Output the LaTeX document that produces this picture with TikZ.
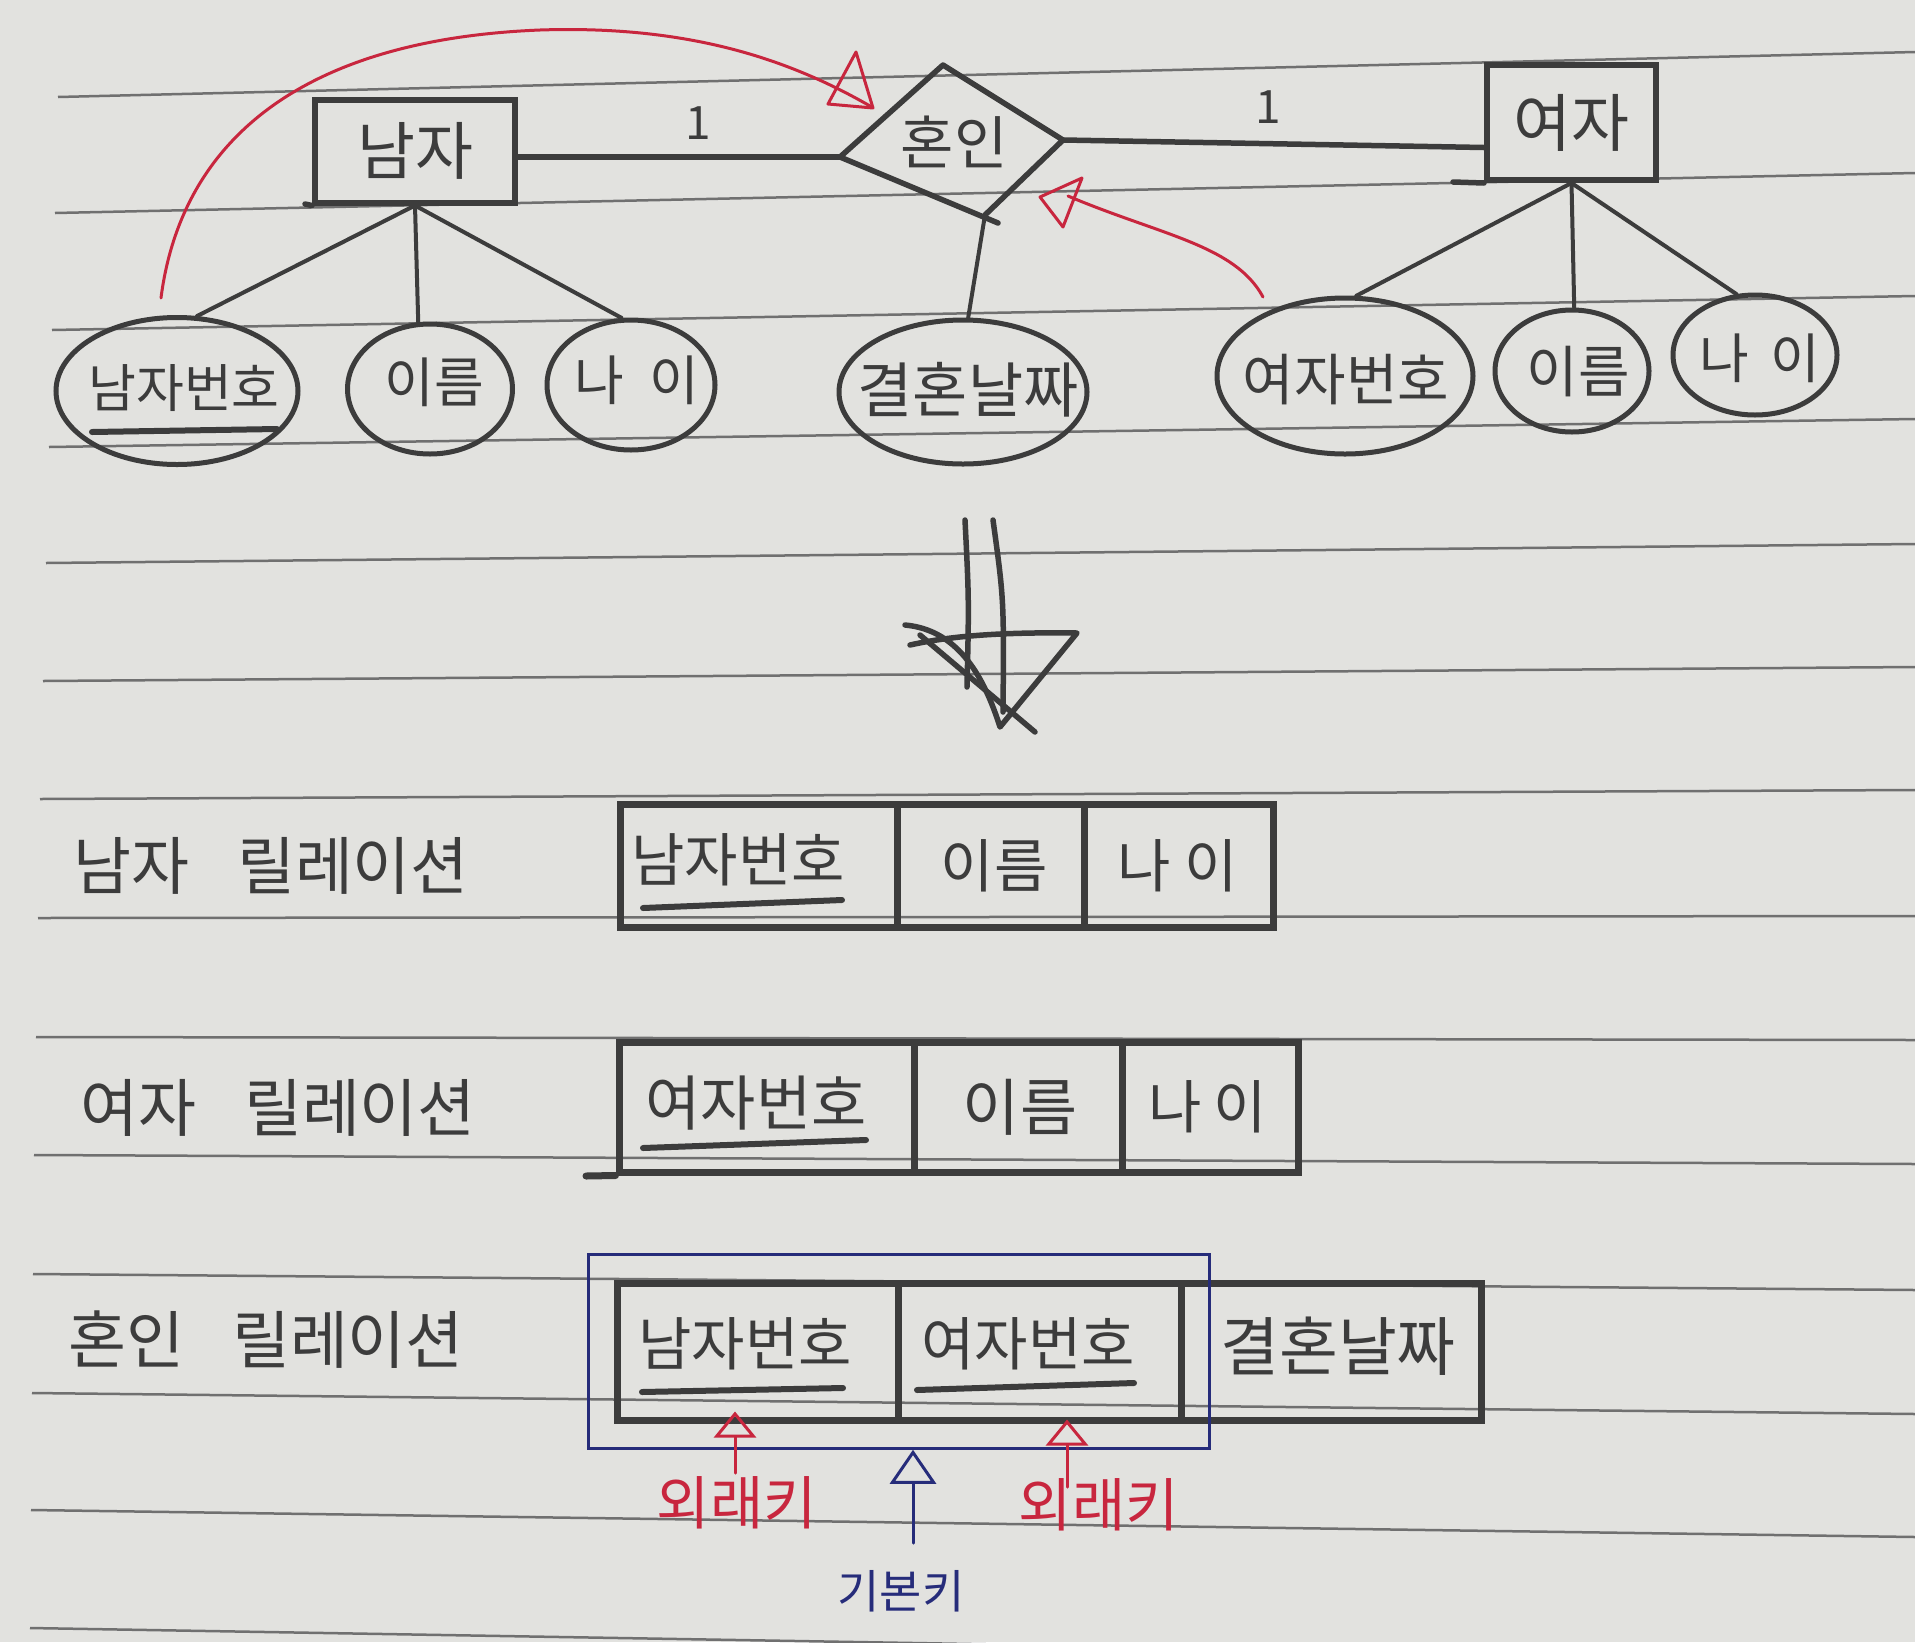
\documentclass[tikz,border=0pt]{standalone}
\usepackage{fontspec}
\newfontfamily\kr{Noto Sans CJK KR}
\usetikzlibrary{shapes.geometric,arrows.meta,fit}
\definecolor{paper}{RGB}{226,226,223}
\definecolor{rulegray}{RGB}{112,112,112}
\definecolor{pencil}{RGB}{60,60,60}
\definecolor{redpen}{RGB}{200,38,62}
\definecolor{bluepen}{RGB}{38,44,122}
\newcommand\kfs[1]{\fontsize{#1}{#1}\selectfont}
\tikzset{
 ruled/.style={draw=rulegray, line width=2.5pt},
 entity/.style={rectangle, draw=pencil, line width=6pt, inner sep=0pt, text=pencil, font={\kr\kfs{63}}},
 attr/.style={ellipse, draw=pencil, line width=5pt, inner sep=0pt},
 atext/.style={inner sep=0pt, text=pencil, font={\kr\kfs{52}}},
 link/.style={draw=pencil, line width=5.5pt, line cap=round, line join=round},
 attrline/.style={draw=pencil, line width=4pt, line cap=round},
 card/.style={inner sep=0pt, text=pencil, font={\kr\kfs{46}}},
 cell/.style={rectangle, draw=pencil, line width=7pt, inner sep=0pt, text=pencil, font={\kr\kfs{58}}},
 keyline/.style={draw=pencil, line width=6pt, line cap=round},
 relname/.style={anchor=west, inner sep=0pt, text=pencil, font={\kr\kfs{63}}},
 redink/.style={draw=redpen, line width=3pt, line cap=round, line join=round},
 redarrow/.style={redink, -{Triangle[open, length=26pt, width=42pt]}},
 bluearrow/.style={draw=bluepen, line width=3pt, line cap=round, -{Triangle[open, length=34pt, width=46pt]}},
 redtext/.style={inner sep=2pt, text=redpen, font={\kr\kfs{58}}},
 bluetext/.style={inner sep=2pt, text=bluepen, font={\kr\kfs{46}}},
 keybox/.style={draw=bluepen, line width=2.5pt, inner sep=25pt},
}
\begin{document}
\begin{tikzpicture}[x=1pt,y=-1pt]
\useasboundingbox (0,0) rectangle (1915,1642);
\fill[paper] (0,0) rectangle (1915,1642);
% ruled paper
\begin{scope}
\clip (0,0) rectangle (1915,1642);
\foreach \xa/\ya/\yb in {58/97/52, 55/213/173, 52/330/296, 49/447/419, 46/563/544, 43/681/667, 40/799/790, 38/918/916, 36/1037/1040, 34/1155/1164, 33/1274/1290, 32/1393/1414, 31/1510/1537, 30/1628/1660}
  \draw[ruled] (\xa,\ya) -- (1915,\yb);
\end{scope}

% ---------- ER diagram ----------
\node[entity, minimum width=200pt, minimum height=103pt] (man) at (415,151) {남자};
\node[entity, minimum width=169pt, minimum height=115pt] (woman) at (1571.5,122.5) {여자};
\draw[link] (305,204) -- (man.south west);
\draw[link] (1453,182) -- (woman.south west);

% relationship diamond
\coordinate (dT) at (943,65);
\coordinate (dR) at (1063,140);
\coordinate (dB) at (985,215);
\coordinate (dL) at (840,157);
\coordinate (dX) at (998,223);
\draw[link] (dT) -- (dR) -- (dB) (dL) -- (dT) (dL) -- (dX);
\node[inner sep=0pt, text=pencil, font={\kr\kfs{58}}] (marriage) at (954,142) {혼인};

\draw[link] ([yshift=-6pt]man.east) -- (dL);
\draw[link] (dR) -- ([yshift=-25pt]woman.west);
\node[card] (one1) at (698,123) {1};
\node[card] (one2) at (1268,107) {1};

% attributes
\node[attr, minimum width=242pt, minimum height=147pt] (a1) at (177,391) {};
\node[attr, minimum width=165pt, minimum height=130pt] (a2) at (430,389) {};
\node[attr, minimum width=168pt, minimum height=130pt] (a3) at (631,385) {};
\node[attr, minimum width=248pt, minimum height=144pt] (a4) at (963,392) {};
\node[attr, minimum width=256pt, minimum height=156pt] (b1) at (1345,376) {};
\node[attr, minimum width=154pt, minimum height=122pt] (b2) at (1572,371) {};
\node[attr, minimum width=164pt, minimum height=120pt] (b3) at (1755,355) {};

\node[atext] (a1t) at (184,388) {남자번호};
\node[atext, font={\kr\kfs{54}}] (a2t) at (434,382) {이름};
\node[atext, font={\kr\kfs{54}}] (a3t) at (637,380) {나\hspace{26pt}이};
\node[atext, font={\kr\kfs{60}}] (a4t) at (968,390) {결혼날짜};
\node[atext, font={\kr\kfs{56}}] (b1t) at (1346,380) {여자번호};
\node[atext, font={\kr\kfs{56}}] (b2t) at (1578,372) {이름};
\node[atext, font={\kr\kfs{54}}] (b3t) at (1760,358) {나\hspace{22pt}이};
\draw[keyline] (92,432) -- (277,429);

\draw[attrline] (man.south) -- (a1.75);
\draw[attrline] (man.south) -- (a2.100);
\draw[attrline] (man.south) -- (a3.98);
\draw[attrline] (dB) -- (a4.86);
\draw[attrline] (woman.south) -- (b1.82);
\draw[attrline] (woman.south) -- (b2.88);
\draw[attrline] (woman.south) -- (b3.107);

% red reference arrows
\coordinate (r1s) at (161,298);
\coordinate (r1e) at (870,106);
\draw[redink] (r1s) .. controls (180,150) and (290,40) .. (540,30) .. controls (690,25) and (790,60) .. (r1e);
\draw[redink] (856,52) -- (828,104) -- (873,108) -- cycle;
\coordinate (r2s) at (1263,297);
\coordinate (r2e) at (1068,196);
\draw[redink] (r2s) .. controls (1235,245) and (1160,235) .. (r2e);
\draw[redink] (1040,197) -- (1082,178) -- (1063,227) -- cycle;

% ---------- transformation arrow ----------
\draw[link] (965,520) .. controls (969,600) .. (967,687);
\draw[link] (993,520) .. controls (1004,600) .. (1003,712);
\draw[link] (905,625) .. controls (960,630) and (985,680) .. (1000,727) -- (1077,633) .. controls (1000,632) and (950,636) .. (910,645);
\draw[link] (920,635) -- (1035,732);

% ---------- relations ----------
\node[relname] (relM) at (73,866) {남자\hspace{48pt}릴레이션};
\node[relname] (relW) at (80,1108) {여자\hspace{48pt}릴레이션};
\node[relname] (relH) at (68,1340) {혼인\hspace{48pt}릴레이션};

% man relation
\node[cell, minimum width=277pt, minimum height=123pt] (m1) at (758.5,866) {};
\node[cell, minimum width=187pt, minimum height=123pt] (m2) at (990.5,866) {};
\node[cell, minimum width=189pt, minimum height=123pt] (m3) at (1178.5,866) {};
\node[cell, draw=none] at (738,860) {남자번호};
\node[cell, draw=none] at (994,866) {이름};
\node[cell, draw=none] at (1178,866) {나\hspace{14pt}이};
\draw[keyline] (643,908) -- (842,900);

% woman relation
\node[cell, minimum width=295pt, minimum height=130pt] (w1) at (766.5,1107) {};
\node[cell, minimum width=208pt, minimum height=130pt] (w2) at (1018,1107) {};
\node[cell, minimum width=176pt, minimum height=130pt] (w3) at (1210,1107) {};
\draw[link, line width=7pt] (586,1176) -- (w1.south west);
\node[cell, draw=none, font={\kr\kfs{60}}] at (756,1103) {여자번호};
\node[cell, draw=none, font={\kr\kfs{62}}] at (1020,1107) {이름};
\node[cell, draw=none] at (1208,1107) {나\hspace{12pt}이};
\draw[keyline] (643,1148) -- (866,1140);

% marriage relation
\node[cell, minimum width=281pt, minimum height=137pt] (h1) at (757.5,1351.5) {};
\node[cell, minimum width=283pt, minimum height=137pt] (h2) at (1039.5,1351.5) {};
\node[cell, minimum width=300pt, minimum height=137pt] (h3) at (1331,1351.5) {};
\node[cell, draw=none] at (745,1344) {남자번호};
\node[cell, draw=none] at (1028,1344) {여자번호};
\node[cell, draw=none, font={\kr\kfs{64}}] at (1338,1346) {결혼날짜};
\draw[keyline] (642,1392) -- (843,1388);
\draw[keyline] (917,1390) -- (1134,1383);

\node[keybox, fit=(h1)(h2)] (pkbox) {};

% key labels
\node[redtext] (fk1) at (737,1503) {외래키};
\node[redtext] (fk2) at (1099,1505) {외래키};
\node[bluetext] (pk) at (901,1591) {기본키};
\draw[redarrow] ([xshift=-2pt,yshift=30pt]fk1.center) -- ([xshift=-2pt,yshift=12pt]fk1.north |- h1.south);
\draw[redarrow] ([xshift=-32pt,yshift=18pt]fk2.center) -- ([xshift=-32pt,yshift=4pt]fk2.north |- h2.south);
\draw[bluearrow] ([xshift=12pt,yshift=48pt]pk.center) -- ([xshift=12pt]pk.north |- pkbox.south);
\end{tikzpicture}
\end{document}
